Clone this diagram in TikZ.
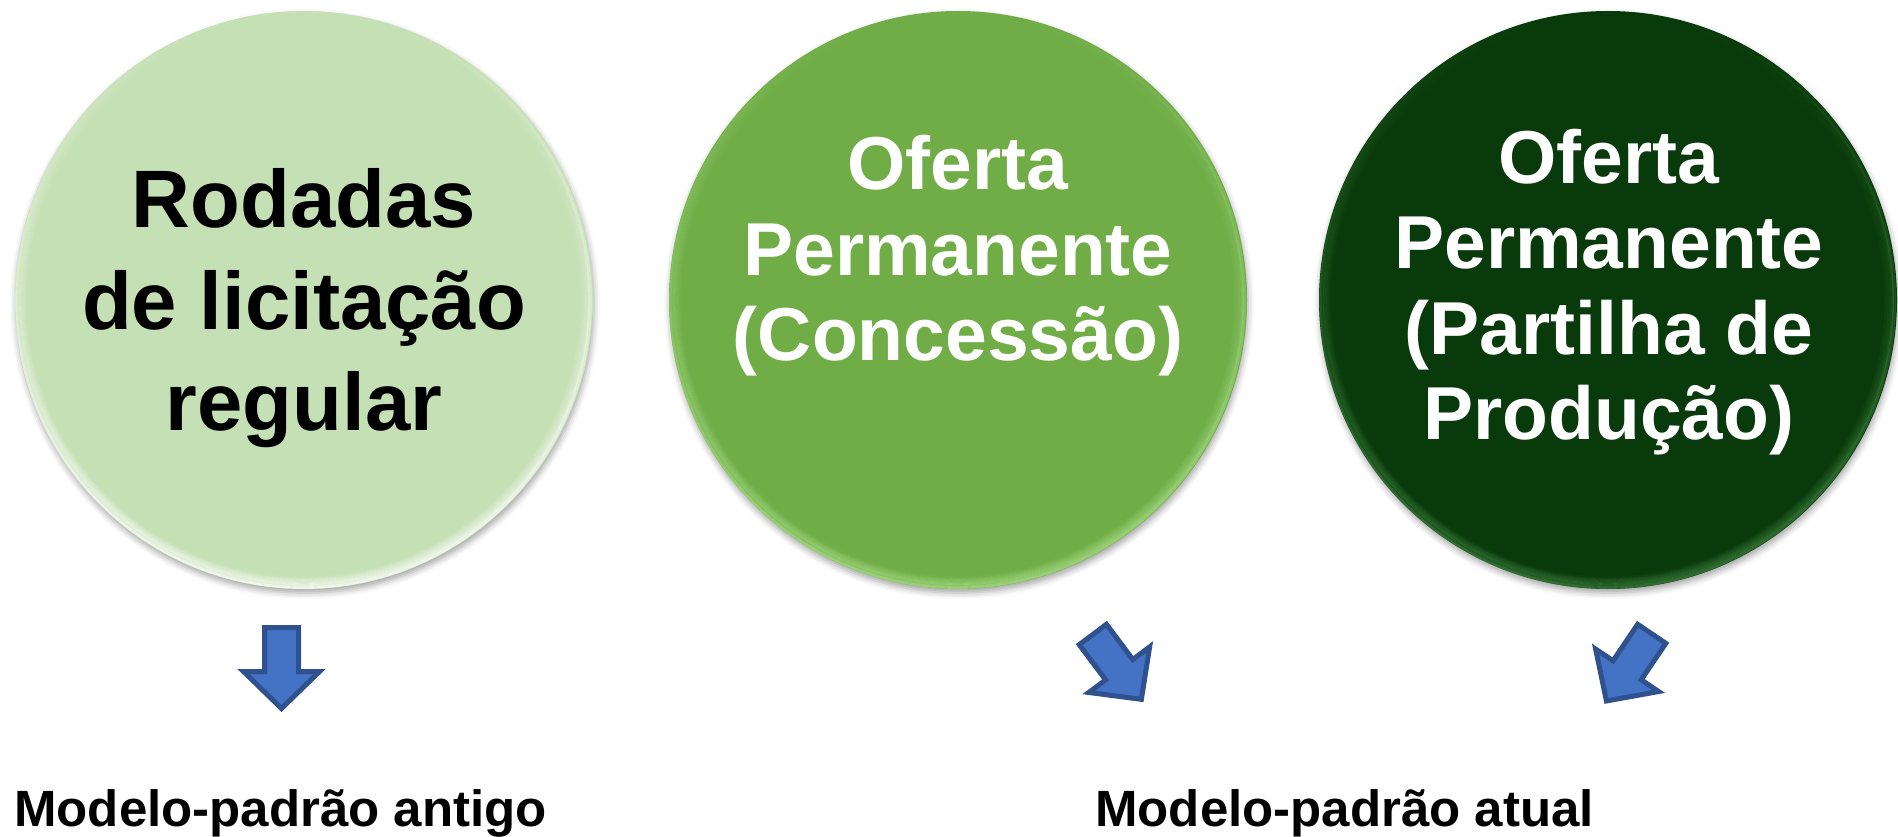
\documentclass[tikz,border=0pt]{standalone}
\usepackage{fontspec}
\setmainfont{Liberation Sans}
\usetikzlibrary{shadows.blur,fadings}
\definecolor{cA}{HTML}{C5E0B4}
\definecolor{cB}{HTML}{70AD47}
\definecolor{cC}{HTML}{093A0B}
\definecolor{rimA}{HTML}{FFFFFF}
\definecolor{rimB}{HTML}{A8DD88}
\definecolor{rimC}{HTML}{3E8040}
\definecolor{arrfill}{HTML}{4472C4}
\definecolor{arrline}{HTML}{2F528F}
\begin{document}
\begin{tikzpicture}[x=1pt,y=-1pt,
  ball/.style={circle, minimum size=578pt, inner sep=0pt,
    blur shadow={shadow xshift=1pt, shadow yshift=-4pt, shadow blur radius=6pt, shadow opacity=35}},
  bigtxt/.style={anchor=base, inner sep=0pt, font=\fontsize{81.5}{96}\selectfont\bfseries},
  midtxt/.style={anchor=base, inner sep=0pt, text=white, font=\fontsize{75}{90}\selectfont\bfseries},
  lbl/.style={anchor=base west, inner sep=0pt, font=\fontsize{51}{62}\selectfont\bfseries},
  blockarrow/.style={fill=arrfill, draw=arrline, line width=5pt, line join=miter}
]
\useasboundingbox (0,0) rectangle (1898,837);

% circles
\node[ball, fill=cA] (c1) at (304,300) {};
\node[ball, fill=cB] (c2) at (958,300) {};
\node[ball, fill=cC] (c3) at (1608,300) {};

% rim highlights
\foreach \c/\rc in {c1/rimA, c2/rimB, c3/rimC}{
  \foreach \k in {0,...,11}{
    \draw[\rc, line width=1.3pt, opacity={0.7*(1-\k/12)}, path fading=north]
      (\c.center) circle[radius={288pt-\k pt}];
  }
}

% texts
\node[bigtxt] (t11) at (304,228) {Rodadas};
\node[bigtxt] (t12) at (304,329) {de licitação};
\node[bigtxt] (t13) at (304,430) {regular};

\node[midtxt] (t21) at (958,190) {Oferta};
\node[midtxt] (t22) at (958,275) {Permanente};
\node[midtxt] (t23) at (958,360) {(Concessão)};

\node[midtxt] (t31) at (1609,184) {Oferta};
\node[midtxt] (t32) at (1609,269) {Permanente};
\node[midtxt] (t33) at (1609,354) {(Partilha de};
\node[midtxt] (t34) at (1609,439) {Produção)};

% block arrows
\foreach \cx/\cy/\ang in {281.5/668.5/0, 1117.4/667.3/36.8, 1628.8/667.8/-34}{
  \begin{scope}[shift={(\cx,\cy)}, rotate=\ang]
    \draw[blockarrow] (-17,-41) -- (17,-41) -- (17,3) -- (38,3) -- (0,40) -- (-38,3) -- (-17,3) -- cycle;
  \end{scope}
}

% labels
\node[lbl] (m1) at (14,826) {Modelo-padrão antigo};
\node[lbl] (m2) at (1095,826) {Modelo-padrão atual};
\end{tikzpicture}
\end{document}
